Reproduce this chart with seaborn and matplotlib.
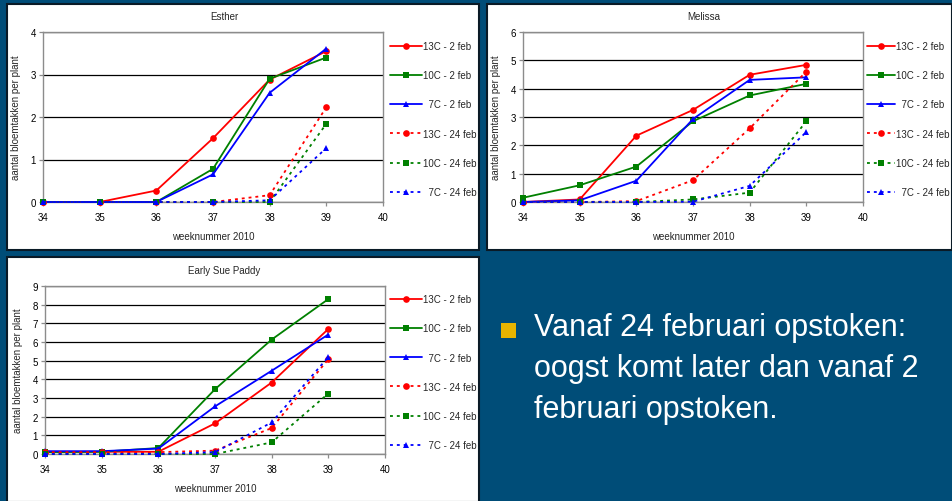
import matplotlib
matplotlib.use("Agg")
import matplotlib.pyplot as plt
import matplotlib.patches as mpatches
import seaborn as sns
import pandas as pd

# ---------------- data ----------------
weeks = [34, 35, 36, 37, 38, 39]
series_labels = ["13C - 2 feb", "10C - 2 feb", "  7C - 2 feb",
                 "13C - 24 feb", "10C - 24 feb", "  7C - 24 feb"]

esther_13c_2 = [0, 0, 0.27, 1.50, 2.88, 3.55]
esther_10c_2 = [0, 0, 0, 0.78, 2.90, 3.40]
esther_7c_2 = [0, 0, 0, 0.65, 2.57, 3.61]
esther_13c_24 = [0, 0, 0, 0, 0.16, 2.23]
esther_10c_24 = [0, 0, 0, 0, 0, 1.84]
esther_7c_24 = [0, 0, 0, 0, 0.04, 1.27]

melissa_13c_2 = [0, 0.09, 2.34, 3.25, 4.49, 4.84]
melissa_10c_2 = [0.15, 0.59, 1.25, 2.85, 3.76, 4.17]
melissa_7c_2 = [0, 0.06, 0.75, 2.93, 4.31, 4.40]
melissa_13c_24 = [0, 0, 0.03, 0.77, 2.60, 4.60]
melissa_10c_24 = [0, 0, 0, 0.09, 0.33, 2.85]
melissa_7c_24 = [0, 0, 0, 0.01, 0.57, 2.47]

esp_13c_2 = [0.12, 0.12, 0.12, 1.64, 3.83, 6.70]
esp_10c_2 = [0.10, 0.12, 0.32, 3.47, 6.13, 8.30]
esp_7c_2 = [0.15, 0.15, 0.29, 2.55, 4.46, 6.40]
esp_13c_24 = [0.10, 0.10, 0.10, 0.18, 1.39, 5.08]
esp_10c_24 = [0, 0, 0, 0, 0.62, 3.24]
esp_7c_24 = [0, 0, 0, 0.10, 1.69, 5.20]

panel_titles = ["Esther", "Melissa", "Early Sue Paddy"]
panel_ymax = [4, 6, 9]
x_label = "weeknummer 2010"
y_label = "aantal bloemtakken per plant"
bullet_text = "Vanaf 24 februari opstoken:\noogst komt later dan vanaf 2\nfebruari opstoken."

panel_series = [
    [esther_13c_2, esther_10c_2, esther_7c_2, esther_13c_24, esther_10c_24, esther_7c_24],
    [melissa_13c_2, melissa_10c_2, melissa_7c_2, melissa_13c_24, melissa_10c_24, melissa_7c_24],
    [esp_13c_2, esp_10c_2, esp_7c_2, esp_13c_24, esp_10c_24, esp_7c_24],
]

rows = []
for title, series in zip(panel_titles, panel_series):
    for lab, vals in zip(series_labels, series):
        for w, v in zip(weeks, vals):
            rows.append({"panel": title, "series": lab, "week": w, "value": v})
df = pd.DataFrame(rows)

# ---------------- styles ----------------
sns.set_style("white")
plt.rcParams["font.family"] = ["Liberation Sans", "DejaVu Sans"]

colors = ["#ff0000", "#008000", "#0000ff", "#ff0000", "#008000", "#0000ff"]
markers = ["o", "s", "^", "o", "s", "^"]
styles = ["-", "-", "-", (0, (1.6, 2.2)), (0, (1.6, 2.2)), (0, (1.6, 2.2))]

W, H = 952, 502
BG = "#004d78"
fig = plt.figure(figsize=(W / 100, H / 100), dpi=100, facecolor=BG)


def fx(x):
    return x / W


def fy(y):
    return 1 - y / H


def rect(x0, y0, x1, y1):
    return [fx(x0), fy(y1), fx(x1) - fx(x0), fy(y0) - fy(y1)]


# white chart panels (pixel boxes)
panel_boxes = [(7, 5, 479, 251), (487, 5, 952, 251), (7, 258, 479, 503)]
axes_boxes = [(43, 33, 383, 203), (523, 33, 863, 203), (45, 287, 385, 455)]
title_pos = [(224, 17), (704, 17), (224, 271)]
legend_pos = [(390, 42), (867, 42), (390, 295)]
legend_handlelen = [3.3, 2.9, 3.3]

for (x0, y0, x1, y1) in panel_boxes:
    fig.patches.append(mpatches.Rectangle((fx(x0), fy(y1)), fx(x1) - fx(x0), fy(y0) - fy(y1),
                                          transform=fig.transFigure, facecolor="white",
                                          edgecolor="#0a1a26", linewidth=1.5, zorder=-5))

for i, title in enumerate(panel_titles):
    ax = fig.add_axes(rect(*axes_boxes[i]))
    ax.set_facecolor("white")
    sub = df[df["panel"] == title]
    for j, lab in enumerate(series_labels):
        sns.lineplot(data=sub[sub["series"] == lab], x="week", y="value", ax=ax,
                     color=colors[j], marker=markers[j], linestyle=styles[j],
                     linewidth=1.3, markersize=4.8, markeredgecolor=colors[j],
                     markeredgewidth=0, legend=False, label=lab, zorder=3 + j,
                     clip_on=False)
    ax.set_xlim(34, 40)
    ax.set_ylim(0, panel_ymax[i])
    ax.set_xticks(range(34, 41))
    ax.set_yticks(range(0, panel_ymax[i] + 1))
    ax.yaxis.grid(True, color="black", linewidth=0.9)
    ax.set_axisbelow(True)
    for s in ax.spines.values():
        s.set_color("#8c8c8c")
        s.set_linewidth(1.0)
        s.set_visible(True)
    ax.tick_params(axis="both", which="both", direction="out", length=3, width=0.9,
                   color="#8c8c8c", labelsize=7, labelcolor="black",
                   bottom=True, left=True)
    ax.tick_params(axis="x", pad=4)
    ax.tick_params(axis="y", pad=2)
    ax.set_xlabel(x_label, fontsize=7, labelpad=7)
    ax.set_ylabel(y_label, fontsize=7, labelpad=7)
    tx, ty = title_pos[i]
    fig.text(fx(tx), fy(ty), title, fontsize=7, ha="center", va="center")
    handles = ax.get_lines()[:len(series_labels)]
    lx, ly = legend_pos[i]
    leg = ax.legend(handles=handles, labels=series_labels, loc="upper left",
                    bbox_to_anchor=(fx(lx), fy(ly)), bbox_transform=fig.transFigure,
                    frameon=False, fontsize=7, handlelength=legend_handlelen[i],
                    handletextpad=0.1, labelspacing=1.98, borderaxespad=0, borderpad=0)
    leg.set_clip_on(False)

# bullet text box
fig.patches.append(mpatches.Rectangle((fx(501), fy(339)), fx(516) - fx(501), fy(324) - fy(339),
                                      transform=fig.transFigure, facecolor="#e8b400",
                                      edgecolor="none", zorder=5))
fig.text(fx(534), fy(313), bullet_text, fontsize=22, color="white",
         family=["Liberation Sans Narrow", "Liberation Sans", "DejaVu Sans"],
         ha="left", va="top", linespacing=1.48)

fig.savefig("out.png", dpi=100, facecolor=BG)
